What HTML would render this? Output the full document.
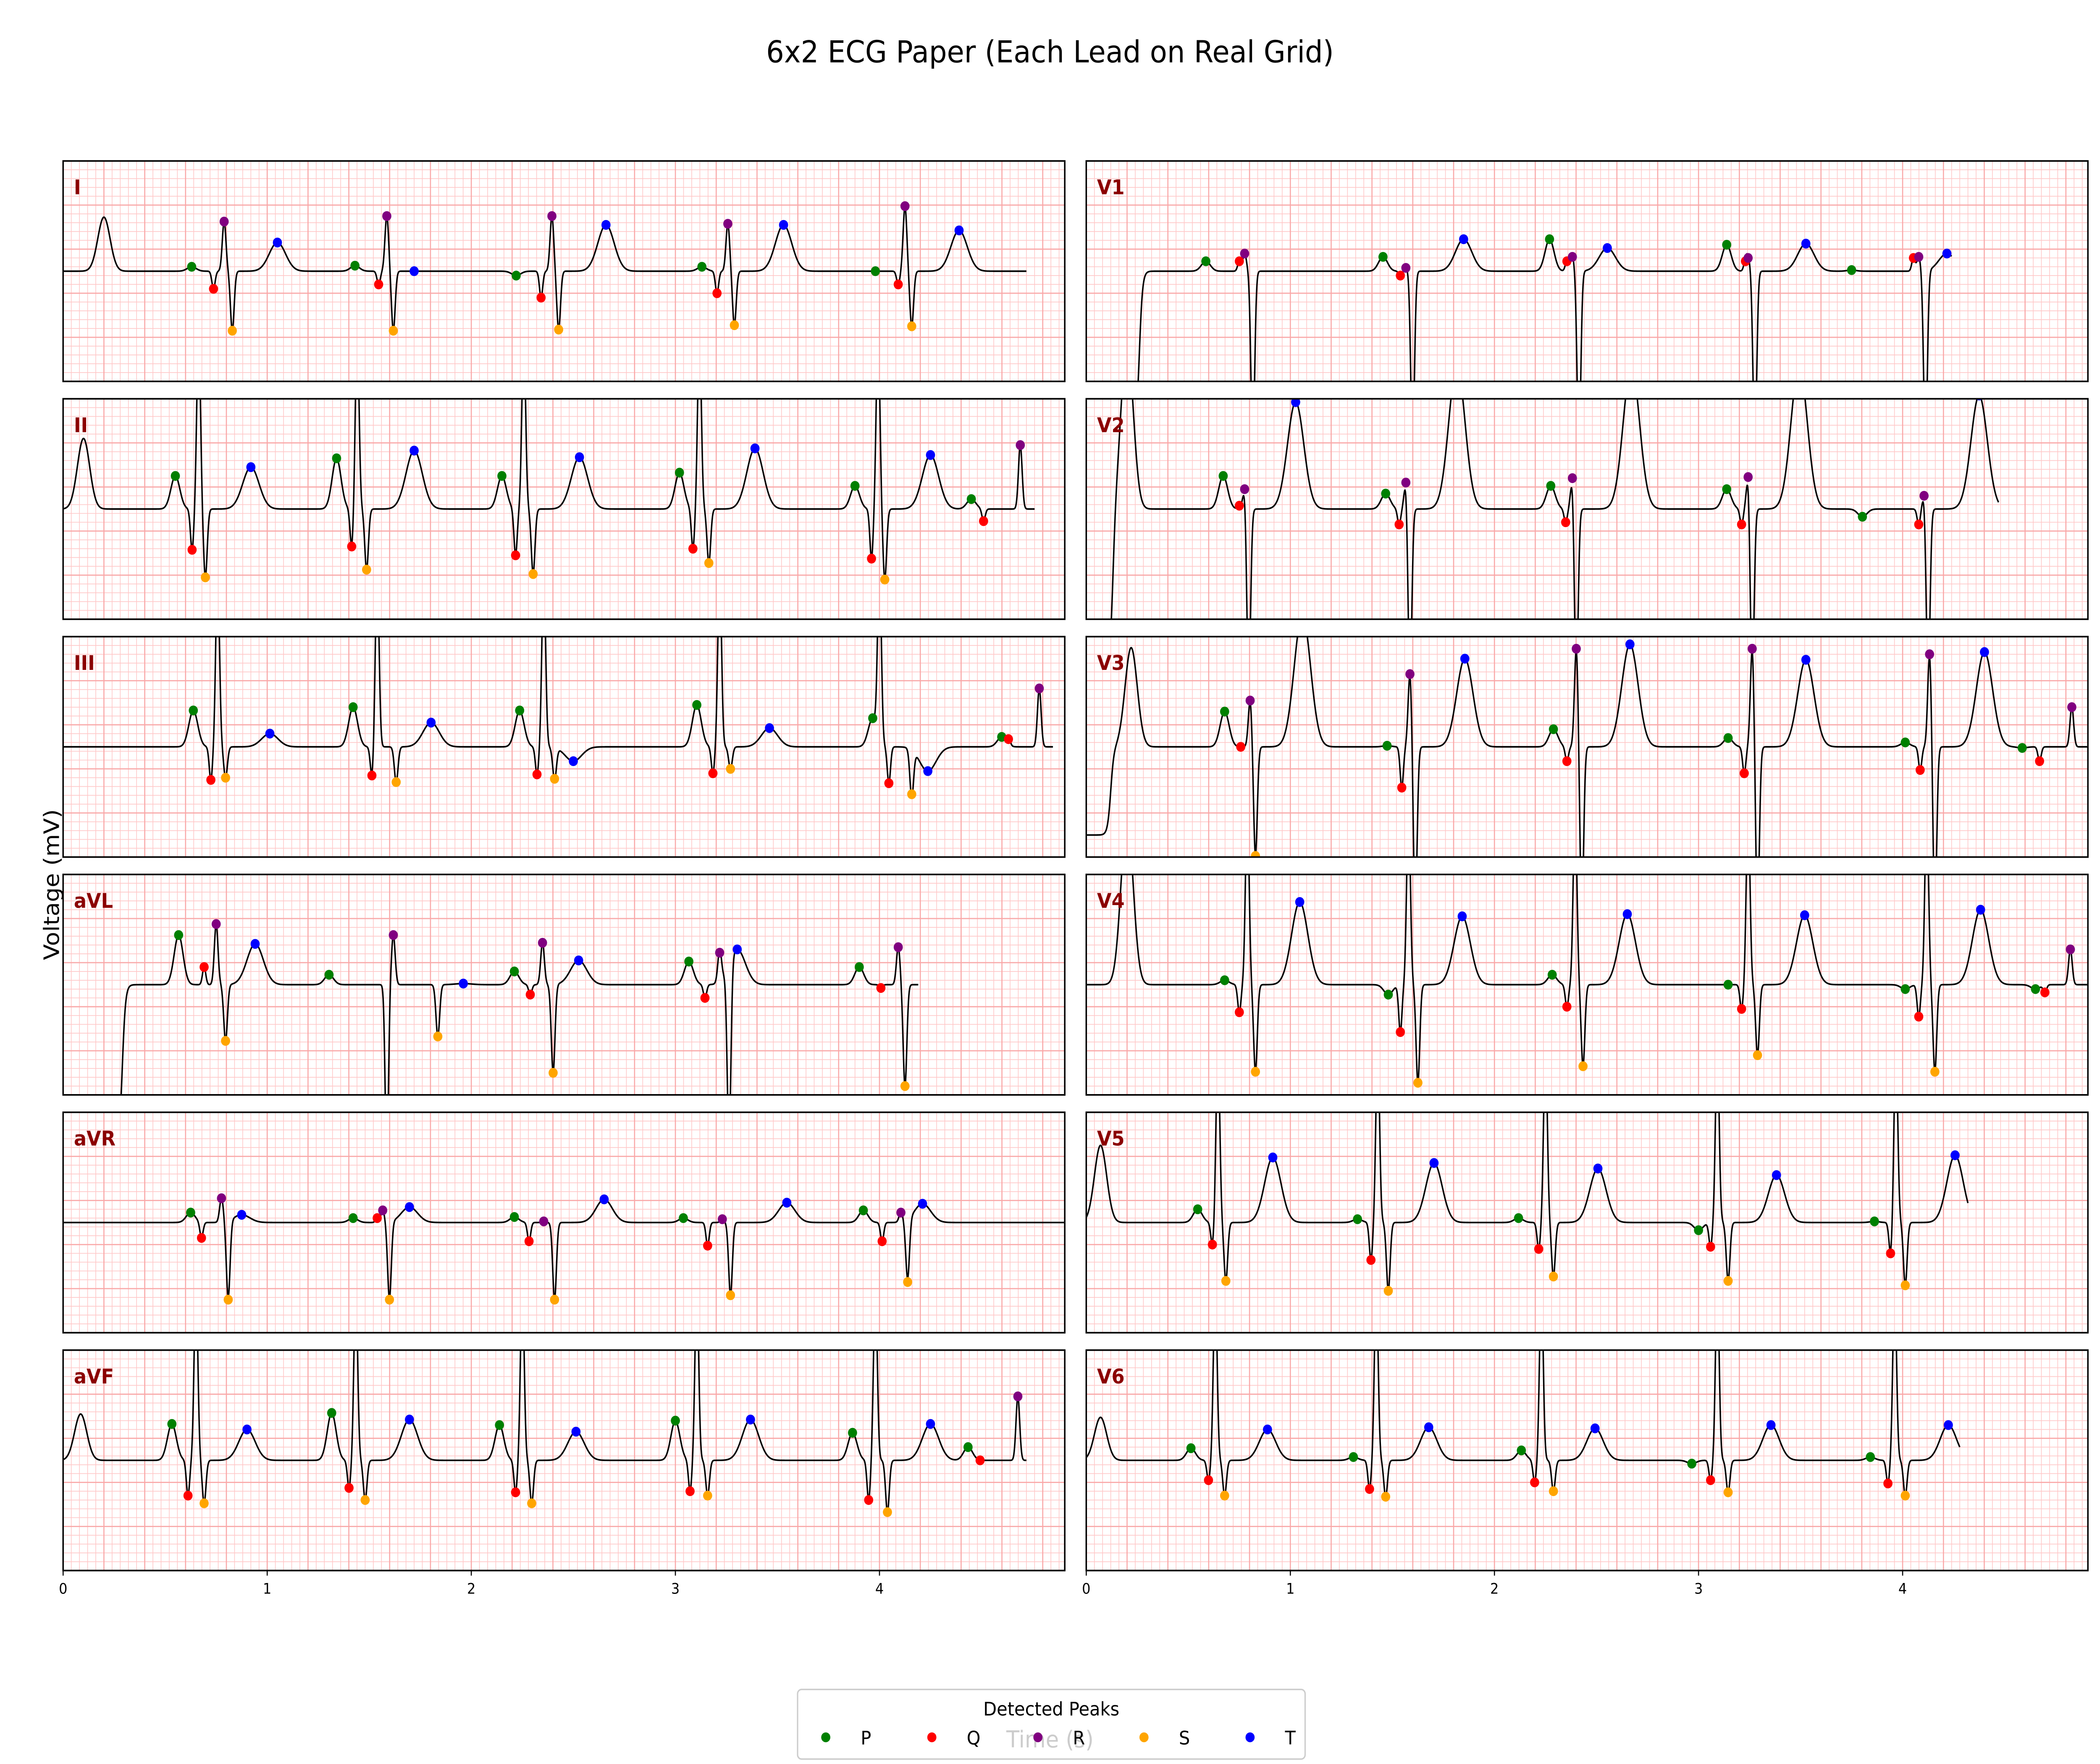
<!DOCTYPE html>
<html><head><meta charset="utf-8"><title>6x2 ECG Paper</title>
<style>html,body{margin:0;padding:0;background:#fff;width:100%;height:100%;overflow:hidden}svg{display:block;width:100vw;height:100vh}</style></head>
<body>
<svg id="chart" xmlns="http://www.w3.org/2000/svg" viewBox="0 0 1564 1216.4" preserveAspectRatio="none" font-family="'DejaVu Sans','Liberation Sans',sans-serif">
<rect x="0" y="0" width="1564" height="1216.4" fill="#fff"/>
<text x="782" y="43" font-size="21" text-anchor="middle">6x2 ECG Paper (Each Lead on Real Grid)</text>
<g id="panels"></g>
<text x="0" y="0" font-size="16" text-anchor="middle" transform="translate(44,610) rotate(-90)">Voltage (mV)</text>
<text x="782" y="1205" font-size="16" text-anchor="middle" fill="#000">Time (s)</text>
<g id="legend">
<rect x="594" y="1165" width="378" height="48" rx="3" fill="#fff" fill-opacity="0.8" stroke="#ccc" stroke-width="1"/>
<text x="783" y="1183" font-size="13" text-anchor="middle">Detected Peaks</text>
</g>
</svg>
<script>
const leadNames = ["I","II","III","aVL","aVR","aVF","V1","V2","V3","V4","V5","V6"];
const pTimes = [[0.63,1.43,2.22,3.13,3.98],[0.55,1.34,2.15,3.02,3.88,4.45],[0.638,1.421,2.237,3.105,3.967,4.599],[0.566,1.303,2.211,3.066,3.901],[0.625,1.421,2.211,3.039,3.921],[0.533,1.316,2.138,3.0,3.868,4.434],[0.586,1.454,2.270,3.138,3.750],[0.671,1.467,2.276,3.138,3.803],[0.678,1.474,2.289,3.145,4.013,4.586],[0.678,1.480,2.283,3.145,4.013,4.651],[0.546,1.329,2.118,3.0,3.862],[0.513,1.309,2.132,2.967,3.842]];
const pVals = [[0.04,0.05,-0.04,0.04,0.0],[0.30,0.46,0.30,0.33,0.21,0.09],[0.33,0.36,0.33,0.38,0.26,0.09],[0.45,0.09,0.12,0.21,0.16],[0.09,0.04,0.05,0.04,0.11],[0.33,0.43,0.32,0.36,0.25,0.12],[0.09,0.13,0.29,0.24,0.01],[0.30,0.14,0.21,0.18,-0.07],[0.32,0.01,0.16,0.08,0.04,-0.01],[0.04,-0.09,0.09,0.0,-0.04,-0.04],[0.12,0.03,0.04,-0.07,0.01],[0.11,0.03,0.09,-0.03,0.03]];
const qTimes = [[0.737,1.546,2.342,3.204,4.092],[0.632,1.414,2.217,3.086,3.961,4.51],[0.724,1.513,2.322,3.184,4.046,4.632],[0.691,1.586,2.289,3.145,4.007],[0.678,1.539,2.283,3.158,4.013],[0.612,1.401,2.217,3.072,3.947,4.493],[0.75,1.539,2.355,3.230,4.053],[0.75,1.533,2.349,3.211,4.079],[0.757,1.546,2.355,3.224,4.086,4.671],[0.75,1.539,2.355,3.211,4.079,4.697],[0.618,1.395,2.217,3.059,3.941],[0.599,1.388,2.197,3.059,3.928]];
const qVals = [[-0.16,-0.12,-0.24,-0.20,-0.12],[-0.37,-0.34,-0.42,-0.36,-0.45,-0.11],[-0.30,-0.26,-0.25,-0.24,-0.33,0.07],[0.16,-1.6,-0.09,-0.12,-0.03],[-0.14,0.04,-0.17,-0.21,-0.17],[-0.32,-0.25,-0.29,-0.28,-0.36,0.0],[0.09,-0.04,0.09,0.09,0.12],[0.03,-0.14,-0.12,-0.14,-0.14],[0.0,-0.37,-0.13,-0.24,-0.21,-0.13],[-0.25,-0.43,-0.20,-0.22,-0.29,-0.07],[-0.20,-0.34,-0.24,-0.22,-0.28],[-0.18,-0.26,-0.20,-0.18,-0.21]];
const rTimes = [[0.789,1.586,2.395,3.257,4.125],[0.664,1.441,2.257,3.118,3.993,4.69],[0.757,1.539,2.355,3.217,4.0,4.783],[0.75,1.618,2.349,3.217,4.092],[0.776,1.566,2.355,3.230,4.105],[0.651,1.434,2.25,3.105,3.98,4.678],[0.776,1.566,2.382,3.243,4.079],[0.776,1.566,2.382,3.243,4.105],[0.803,1.586,2.401,3.263,4.132,4.829],[0.789,1.579,2.395,3.243,4.118,4.822],[0.645,1.428,2.25,3.092,3.967],[0.632,1.421,2.230,3.092,3.961]];
const rVals = [[0.45,0.50,0.50,0.43,0.59],[1.6,1.6,1.6,1.6,1.6,0.58],[1.6,1.6,1.6,1.6,1.6,0.53],[0.55,0.45,0.38,0.29,0.34],[0.22,0.11,0.01,0.03,0.09],[1.6,1.6,1.6,1.6,1.6,0.58],[0.16,0.03,0.13,0.12,0.13],[0.18,0.24,0.28,0.29,0.12],[0.42,0.66,0.89,0.89,0.84,0.36],[1.6,1.6,1.6,1.6,1.6,0.32],[1.6,1.6,1.6,1.6,1.6],[1.6,1.6,1.6,1.6,1.6]];
const sTimes = [[0.829,1.618,2.428,3.289,4.158],[0.697,1.487,2.303,3.164,4.026],[0.796,1.632,2.408,3.270,4.158],[0.796,1.836,2.401,3.263,4.125],[0.809,1.599,2.408,3.270,4.138],[0.691,1.480,2.296,3.158,4.039],[0.816,1.599,2.414,3.276,4.112],[0.796,1.586,2.401,3.263,4.125],[0.829,1.612,2.428,3.289,4.158],[0.829,1.625,2.434,3.289,4.158],[0.684,1.480,2.289,3.145,4.013],[0.678,1.467,2.289,3.145,4.013]];
const sVals = [[-0.54,-0.54,-0.53,-0.49,-0.50],[-0.62,-0.55,-0.59,-0.49,-0.64],[-0.28,-0.32,-0.29,-0.20,-0.43],[-0.51,-0.47,-0.80,-1.6,-0.92],[-0.70,-0.70,-0.70,-0.66,-0.54],[-0.39,-0.36,-0.39,-0.32,-0.47],[-1.6,-1.6,-1.6,-1.6,-1.6],[-1.6,-1.6,-1.6,-1.6,-1.6],[-0.99,-1.5,-1.5,-1.5,-1.5],[-0.79,-0.89,-0.74,-0.64,-0.79],[-0.53,-0.62,-0.49,-0.53,-0.57],[-0.32,-0.33,-0.28,-0.29,-0.32]];
const tTimes = [[1.05,1.72,2.66,3.53,4.39],[0.92,1.72,2.53,3.39,4.25],[1.013,1.803,2.5,3.461,4.237],[0.941,1.961,2.526,3.303],[0.875,1.697,2.651,3.546,4.211],[0.901,1.697,2.513,3.368,4.25],[1.849,2.553,3.526,4.217],[1.026,1.816,2.671,3.493,4.375],[1.059,1.855,2.664,3.526,4.401],[1.046,1.842,2.651,3.520,4.382],[0.914,1.704,2.507,3.382,4.257],[0.888,1.678,2.493,3.355,4.224]];
const tVals = [[0.26,0.0,0.42,0.42,0.37],[0.38,0.53,0.47,0.55,0.49],[0.12,0.22,-0.13,0.17,-0.22],[0.37,0.01,0.22,0.32],[0.07,0.14,0.21,0.18,0.17],[0.28,0.37,0.26,0.37,0.33],[0.29,0.21,0.25,0.16],[0.97,1.3,1.3,1.3,1.03],[1.2,0.80,0.93,0.79,0.86],[0.75,0.62,0.64,0.63,0.68],[0.59,0.54,0.49,0.43,0.61],[0.28,0.30,0.29,0.32,0.32]];
const bumpTimes = [0.2,0.1,0,0,0,0.086,0,0.2,0.22,0.2,0.07,0.07];
const bumpVals = [0.49,0.64,0,0,0,0.42,0,1.5,0.9,1.5,0.7,0.39];
const preEnds = [0,0,0,0.29,0,0,0.26,0.13,0.12,0,0,0];
const preLevels = [0,0,0,-1.5,0,0,-1.5,-1.5,-0.8,0,0,0];
const endTimes = [4.72,4.76,4.85,4.19,4.91,4.72,4.24,4.47,4.91,4.91,4.32,4.28];
const xTicks = [0,1,2,3,4];
const peakTypes = ["P","Q","R","S","T"];
const peakColors = ["green","red","purple","orange","blue"];

const NS = "http://www.w3.org/2000/svg";
const PX_PER_S = 152, PW = 746, PH = 152, TMAX = PW / PX_PER_S;
const colX = [47, 809], rowY = [111, 275, 439, 603, 767, 931];
function mk(tag, attrs, parent) { const e = document.createElementNS(NS, tag); for (const k in attrs) e.setAttribute(k, attrs[k]); if (parent) parent.appendChild(e); return e; }
function xScale(i, t) { return colX[Math.floor(i / 6)] + t * PX_PER_S; }
function yScale(i, v) { return rowY[i % 6] + PH / 2 - v * (PH / 2); }
function g(t, c, a, s) { const d = t - c; return a * Math.exp(-d * d / (2 * s * s)); }
function signal(i, t) {
  let v = 0;
  if (preLevels[i]) v += preLevels[i] / (1 + Math.exp((t - preEnds[i]) / 0.008));
  if (bumpVals[i]) v += g(t, bumpTimes[i], bumpVals[i], 0.03);
  pTimes[i].forEach((c, k) => v += g(t, c, pVals[i][k], 0.022));
  qTimes[i].forEach((c, k) => v += g(t, c, qVals[i][k], 0.008));
  rTimes[i].forEach((c, k) => v += g(t, c, rVals[i][k], 0.009));
  sTimes[i].forEach((c, k) => v += g(t, c, sVals[i][k], 0.009));
  tTimes[i].forEach((c, k) => v += g(t, c, tVals[i][k], 0.04));
  return v;
}
const root = document.getElementById("panels");
const defs = mk("defs", {}, root);
for (let i = 0; i < 12; i++) {
  const x0 = colX[Math.floor(i / 6)], y0 = rowY[i % 6];
  const cp = mk("clipPath", { id: "clip" + i }, defs);
  mk("rect", { x: x0, y: y0, width: PW, height: PH }, cp);
  const panel = mk("g", {}, root);
  
  
  const grid = mk("g", {}, panel);
  
  
  let minor = "", major = "";
  for (let k = 0; k * 0.04 <= TMAX + 1e-6; k++) { const x = (x0 + k * 0.04 * PX_PER_S).toFixed(2); const s = `M${x} ${y0}V${y0 + PH}`; if (k % 5 === 0) major += s; else minor += s; }
  for (let k = 0; k * 6.08 <= PH + 0.01; k++) { const y = (y0 + PH - k * 6.08).toFixed(2); const s = `M${x0} ${y}H${x0 + PW}`; if (k % 5 === 0) major += s; else minor += s; }
  mk("path", { d: minor, stroke: "#ffc8c8", "stroke-width": 0.5, fill: "none" }, grid);
  mk("path", { d: major, stroke: "#f9a8a8", "stroke-width": 0.8, fill: "none" }, grid);
  let d = "";
  for (let t = 0; t <= endTimes[i] + 1e-9; t += 0.002) { d += (d ? "L" : "M") + xScale(i, t).toFixed(2) + " " + yScale(i, signal(i, t)).toFixed(2); }
  const tr = mk("path", { d: d, stroke: "#000", "stroke-width": 1.1, fill: "none", "clip-path": `url(#clip${i})`, "stroke-linejoin": "round" }, panel);
  
  
  const mg = mk("g", { "clip-path": `url(#clip${i})` }, panel);
  const tArr = [pTimes, qTimes, rTimes, sTimes, tTimes], vArr = [pVals, qVals, rVals, sVals, tVals];
  for (let p = 0; p < 5; p++) {
    tArr[p][i].forEach((tt, k) => {
      const c = mk("circle", { cx: xScale(i, tt).toFixed(2), cy: yScale(i, vArr[p][i][k]).toFixed(2), r: 3.4, fill: peakColors[p] }, mg);
      
      
    });
  }
  const fr = mk("rect", { x: x0, y: y0, width: PW, height: PH, fill: "none", stroke: "#000", "stroke-width": 1.1 }, panel);
  
  
  const lb = mk("text", { x: x0 + 8, y: y0 + 23, "font-size": 14, "font-weight": "bold", fill: "#8b0000" }, panel);
  lb.textContent = leadNames[i];
  
  
  if (i % 6 === 5) {
    xTicks.forEach(v => {
      const x = xScale(i, v);
      const tk = mk("line", { x1: x, x2: x, y1: y0 + PH, y2: y0 + PH + 3.5, stroke: "#000", "stroke-width": 0.8 }, panel);
      
      
      const tl = mk("text", { x: x, y: y0 + PH + 16, "font-size": 10, "text-anchor": "middle" }, panel);
      tl.textContent = String(v);
      
      
    });
  }
}
const leg = document.getElementById("legend");
peakTypes.forEach((p, k) => {
  const cx = 615 + k * 79;
  const c = mk("circle", { cx: cx, cy: 1198, r: 3.4, fill: peakColors[k] }, leg);
  
  
  const t = mk("text", { x: cx + 26, y: 1203, "font-size": 13 }, leg);
  t.textContent = p;
  
  
});
</script>
</body></html>
